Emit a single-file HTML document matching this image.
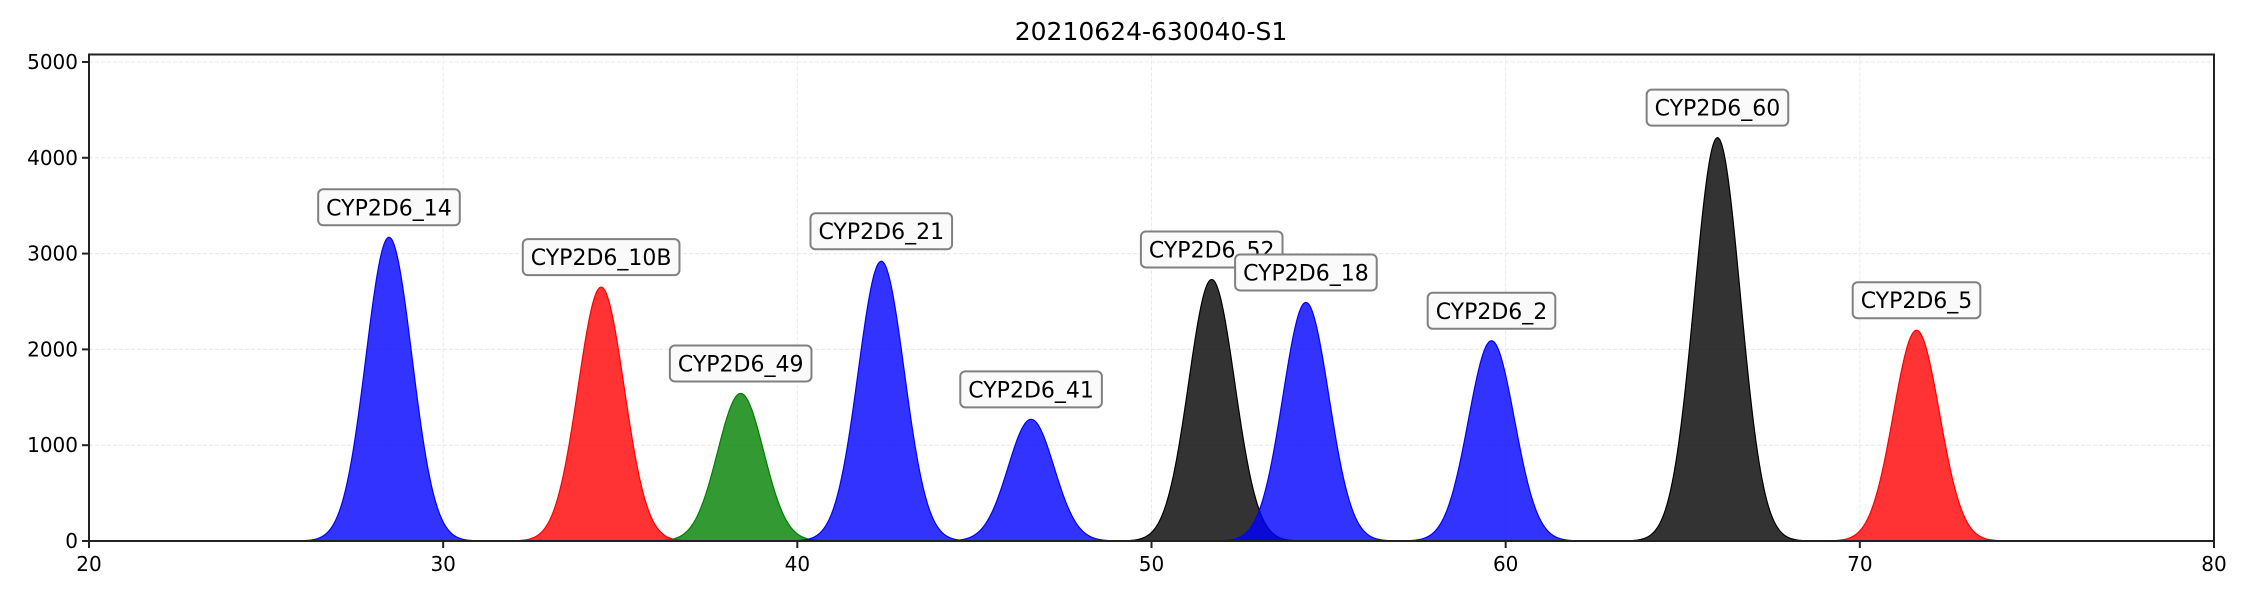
<!DOCTYPE html>
<html><head><meta charset="utf-8"><style>
html,body{margin:0;padding:0;background:#fff;}
svg{display:block;font-family:"DejaVu Sans","Liberation Sans",sans-serif;}
</style></head><body>
<svg id="chart" width="2250" height="600" viewBox="0 0 2250 600" xmlns="http://www.w3.org/2000/svg">
<text x="1151" y="40" font-size="25" text-anchor="middle" fill="#000">20210624-630040-S1</text>
<g id="grid"></g>
<g id="peaks"></g>
<g id="labels"></g>
<g id="axes"></g>
</svg>
<script>
const peakNames = ["CYP2D6_14","CYP2D6_10B","CYP2D6_49","CYP2D6_21","CYP2D6_41","CYP2D6_52","CYP2D6_18","CYP2D6_2","CYP2D6_60","CYP2D6_5"];
const peakCenters = [28.47,34.46,38.4,42.37,46.6,51.7,54.36,59.6,65.98,71.6];
const peakHeights = [3170,2650,1540,2920,1270,2730,2490,2090,4210,2200];
const peakColors = ["blue","red","green","blue","blue","black","blue","blue","black","red"];
const xTicks = [20,30,40,50,60,70,80];
const yTicks = [0,1000,2000,3000,4000,5000];
const SIGMA = 0.65;

const L=89,R=2214,T=54.5,B=541,XMIN=20,XMAX=80,YMAX=5078;
const xs=v=>L+(v-XMIN)/(XMAX-XMIN)*(R-L);
const ys=v=>B-v/YMAX*(B-T);
const NS="http://www.w3.org/2000/svg";
function mk(tag,attrs,parent){const e=document.createElementNS(NS,tag);for(const k in attrs)e.setAttribute(k,attrs[k]);parent.appendChild(e);return e;}
const fillCol={blue:"rgba(0,0,255,0.8)",red:"rgba(255,0,0,0.8)",green:"rgba(0,128,0,0.8)",black:"rgba(0,0,0,0.8)"};

const grid=document.getElementById('grid');
xTicks.slice(1,-1).forEach(t=>{
  const l=mk('line',{x1:xs(t),x2:xs(t),y1:T,y2:B,stroke:"#e8e8e8","stroke-width":1,"stroke-dasharray":"4,2"},grid);
  
  
});
yTicks.slice(1).forEach(t=>{
  const l=mk('line',{x1:L,x2:R,y1:ys(t),y2:ys(t),stroke:"#e8e8e8","stroke-width":1,"stroke-dasharray":"4,2"},grid);
  
  
});

const peaks=document.getElementById('peaks');
const labels=document.getElementById('labels');
peakNames.forEach((n,i)=>{
  const c=peakCenters[i],h=peakHeights[i];
  let d="M"+xs(c-4*SIGMA)+","+ys(0);
  for(let k=0;k<=200;k++){
    const x=c-4*SIGMA+8*SIGMA*k/200;
    const y=h*Math.exp(-0.5*((x-c)/SIGMA)**2);
    d+=" L"+xs(x).toFixed(2)+","+ys(y).toFixed(2);
  }
  d+=" L"+xs(c+4*SIGMA)+","+ys(0)+" Z";
  const p=mk('path',{d:d,fill:fillCol[peakColors[i]],stroke:peakColors[i],"stroke-width":1.2},peaks);
  
  
});
peakNames.forEach((n,i)=>{
  const c=peakCenters[i],h=peakHeights[i];
  const cx=xs(c),cy=ys(h)-30;
  const g=mk('g',{},labels);
  
  
  const rect=mk('rect',{rx:5,ry:5,fill:"#fafafa",stroke:"#808080","stroke-width":2},g);
  const t=mk('text',{x:cx,y:cy+8,"font-size":22,"text-anchor":"middle",fill:"#000"},g);
  t.textContent=n;
  const w=t.getComputedTextLength();
  rect.setAttribute('x',cx-w/2-8);rect.setAttribute('width',w+16);
  rect.setAttribute('y',cy-18);rect.setAttribute('height',36);
});

const axes=document.getElementById('axes');
const frame=mk('rect',{x:L,y:T,width:R-L,height:B-T,fill:"none",stroke:"#222","stroke-width":2},axes);


xTicks.forEach(t=>{
  mk('line',{x1:xs(t),x2:xs(t),y1:B,y2:B+7,stroke:"#222","stroke-width":2},axes);
  const tx=mk('text',{x:xs(t),y:B+30,"font-size":20,"text-anchor":"middle",fill:"#000"},axes);
  tx.textContent=t;
  
  
});
yTicks.forEach(t=>{
  mk('line',{x1:L-7,x2:L,y1:ys(t),y2:ys(t),stroke:"#222","stroke-width":2},axes);
  const tx=mk('text',{x:L-11,y:ys(t)+7,"font-size":20,"text-anchor":"end",fill:"#000"},axes);
  tx.textContent=t;
  
  
});
</script>
</body></html>
